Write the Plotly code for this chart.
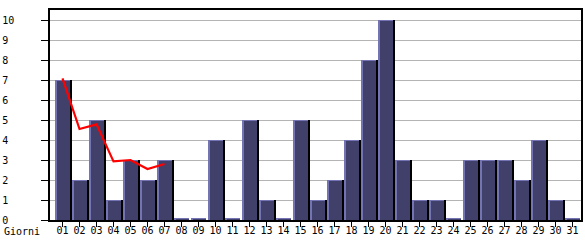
import plotly.graph_objects as go

days = list(range(1, 32))
day_labels = [f"{d:02d}" for d in days]
visits = [7, 2, 5, 1, 3, 2, 3, 0, 0, 4, 0, 5, 1, 0, 5, 1, 2, 4, 8, 10,
          3, 1, 1, 0, 3, 3, 3, 2, 4, 1, 0]
trend_days = [1, 2, 3, 4, 5, 6, 7]
trend_vals = [7.08, 4.55, 4.78, 2.93, 3.0, 2.55, 2.8]
y_ticks = list(range(0, 11))
y_labels = [str(v) if v >= 10 else str(v) + "\u00a0" for v in y_ticks]

FONT = "DejaVu Sans Mono"
BW = 0.88          # bar width in category units
PX = 1 / 17.0      # one pixel in x units
PY = 1 / 20.0      # one pixel in y units

disp = [v if v > 0 else 2 * PY for v in visits]

fig = go.Figure()
# black shadow
fig.add_trace(go.Bar(x=days, y=[d if v > 0 else 0 for d, v in zip(disp, visits)],
                     width=BW - PX, offset=-BW / 2 + 3 * PX,
                     marker=dict(color="#000000", line=dict(width=0)),
                     hoverinfo="skip"))
# light edge bar
fig.add_trace(go.Bar(x=days, y=disp, width=BW, offset=-BW / 2,
                     marker=dict(color="#7474b4", line=dict(width=0)),
                     hoverinfo="skip"))
# inner dark bar
fig.add_trace(go.Bar(x=days, y=[d - PY for d in disp], width=BW - 2 * PX,
                     offset=-BW / 2 + 2 * PX,
                     marker=dict(color="#40406a", line=dict(width=0)),
                     hoverinfo="skip"))
# red trend line
fig.add_trace(go.Scatter(x=trend_days, y=trend_vals, mode="lines",
                         line=dict(color="#ff0000", width=2.2),
                         hoverinfo="skip"))

fig.update_layout(
    template="none",
    width=585, height=240,
    margin=dict(l=50, r=4, t=10, b=20, pad=0),
    barmode="overlay",
    bargap=0,
    showlegend=False,
    paper_bgcolor="white",
    plot_bgcolor="white",
    font=dict(family=FONT, size=10, color="#000000"),
    xaxis=dict(range=[0.265, 31.5], tickmode="array", tickvals=days,
               ticktext=day_labels, ticks="outside", ticklen=5,
               tickcolor="#000000", tickwidth=1,
               ticklabelstandoff=-5,
               showline=True, linecolor="#000000", linewidth=1.5, mirror=True,
               showgrid=False, zeroline=False,
               tickfont=dict(family=FONT, size=10, color="#000000")),
    yaxis=dict(range=[0, 10.5], tickmode="array", tickvals=y_ticks,
               ticktext=y_labels, ticks="outside", ticklen=7,
               tickcolor="#000000", tickwidth=1,
               ticklabelstandoff=25,
               showline=True, linecolor="#000000", linewidth=1.5, mirror=True,
               showgrid=True, gridcolor="#b4b4b4", gridwidth=1,
               zeroline=False,
               tickfont=dict(family=FONT, size=10, color="#000000")),
    annotations=[dict(text="Giorni", xref="paper", yref="paper",
                      x=-48 / 531, y=-11 / 210, xanchor="left",
                      yanchor="middle", showarrow=False,
                      font=dict(family=FONT, size=10, color="#000000"))],
)

fig.write_html("out.html")
